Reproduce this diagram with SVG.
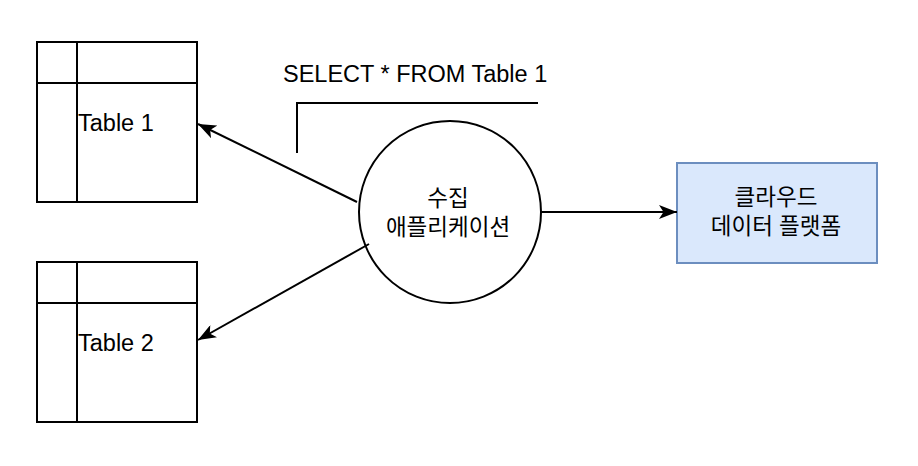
<svg xmlns="http://www.w3.org/2000/svg" width="918" height="466" viewBox="0 0 918 466">
  <defs>
    <marker id="arrow" viewBox="0 0 18 14" refX="18" refY="7" markerWidth="18" markerHeight="14" markerUnits="userSpaceOnUse" orient="auto">
      <path d="M0,0 L18,7 L0,14 L4.5,7 Z" fill="#000"/>
    </marker>
    <style>
      .line { fill: none; stroke: #000; stroke-width: 2; }
      .tbl { fill: #fff; stroke: #000; stroke-width: 2; }
      .lbl { font-family: "Liberation Sans", Arial, sans-serif; font-size: 23.5px; fill: #000; }
      .kr { font-family: "Liberation Sans", "Noto Sans CJK KR", sans-serif; font-size: 22.5px; fill: #000; text-anchor: middle; }
    </style>
  </defs>
  <rect width="918" height="466" fill="#fff"/>

  <g id="table1">
    <rect class="tbl" x="37" y="42" width="160" height="160"/>
    <path class="line" d="M77 42 V202 M37 83 H197"/>
    <text class="lbl" x="78" y="131">Table 1</text>
  </g>

  <g id="table2">
    <rect class="tbl" x="37" y="262" width="160" height="160"/>
    <path class="line" d="M77 262 V422 M37 303 H197"/>
    <text class="lbl" x="78" y="351">Table 2</text>
  </g>

  <g id="app">
    <circle cx="450" cy="212" r="91" fill="#fff" stroke="#000" stroke-width="2"/>
    <text class="kr" x="448" y="206">수집</text>
    <text class="kr" x="448" y="235">애플리케이션</text>
  </g>

  <g id="platform">
    <rect x="677" y="163" width="200" height="100" fill="#dae8fc" stroke="#6c8ebf" stroke-width="2"/>
    <text class="kr" x="776" y="205">클라우드</text>
    <text class="kr" x="776" y="234">데이터 플랫폼</text>
  </g>

  <g id="query-note">
    <path class="line" d="M297 153 V103 H538"/>
    <text class="lbl" x="283" y="82">SELECT * FROM Table 1</text>
  </g>

  <g id="connectors">
    <path class="line" d="M357 202 L198 124" marker-end="url(#arrow)"/>
    <path class="line" d="M369 244 L198 340" marker-end="url(#arrow)"/>
    <path class="line" d="M541 212 L677 212" marker-end="url(#arrow)"/>
  </g>
</svg>
